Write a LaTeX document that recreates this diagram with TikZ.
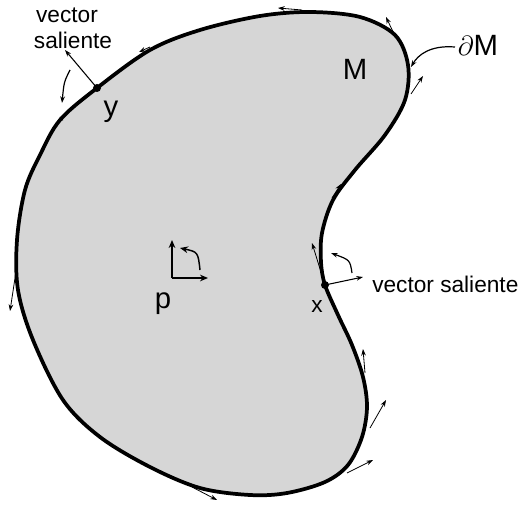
\documentclass[tikz,border=0pt]{standalone}
\usepackage{fontspec}
\setmainfont{Liberation Sans}
\usetikzlibrary{arrows.meta}
\begin{document}
\begin{tikzpicture}[x=0.75pt,y=-0.75pt,
  tanv/.style={-{Stealth[length=5pt,width=3.5pt]}, line width=0.6pt},
  boldv/.style={-{Stealth[length=6pt,width=5pt]}, line width=1.3pt},
  lbl/.style={font=\fontsize{17}{20}\selectfont, inner sep=0pt},
  big/.style={font=\fontsize{22}{24}\selectfont, inner sep=0pt},
  dotp/.style={circle, fill=black, inner sep=0pt, minimum size=6pt}]
\useasboundingbox (0,0) rectangle (521,506);
% region M
\draw[line width=2.8pt, line join=round, fill=black!16]
  plot[smooth cycle, tension=0.55] coordinates {
  (310,12) (360,17) (395,35) (408,65) (405,100) (385,135) (355,170) (333,200)
  (322,233) (321,262) (325,285) (338,315) (352,345) (363,377) (367,407) (362,437)
  (348,465) (325,482) (287,493) (250,495) (200,488) (150,467) (100,437)
  (63,400) (33,340) (18,290) (17,240) (25,190) (40,155) (60,120) (97,88)
  (150,50) (200,30) (260,16)};
% points x and y
\node[dotp] (y) at (97,88) {};
\node[dotp] (x) at (325,285) {};
% tangent vectors along the boundary
\coordinate (t1a) at (302,10);  \coordinate (t1b) at (278,8);
\coordinate (t2a) at (396,38);  \coordinate (t2b) at (386,17);
\coordinate (t3a) at (411,94);  \coordinate (t3b) at (423,76);
\coordinate (t4a) at (332,198); \coordinate (t4b) at (341,184);
\coordinate (t5b) at (312,243);
\coordinate (t6a) at (365,373); \coordinate (t6b) at (363,349);
\coordinate (t7a) at (370,428); \coordinate (t7b) at (386,400);
\coordinate (t8a) at (347,473); \coordinate (t8b) at (373,460);
\coordinate (t9a) at (192,487); \coordinate (t9b) at (217,500);
\coordinate (t10a) at (17,265); \coordinate (t10b) at (10,311);
\coordinate (t11a) at (68,112); \coordinate (t11b) at (57,123);
\coordinate (t12a) at (150,47); \coordinate (t12b) at (139,52);
\foreach \i in {1,2,3,4,6,7,8,9,10,11,12}
  \draw[tanv] (t\i a) -- (t\i b);
\draw[tanv] (x.center) -- (t5b);
% outward vectors
\coordinate (ox) at (363,277);
\coordinate (oy) at (65,50);
\draw[tanv, line width=0.8pt] (x.center) -- (ox);
\draw[tanv, line width=0.8pt] (y.center) -- (oy);
% rotation arrow at x
\coordinate (cxa) at (352,273); \coordinate (cxb) at (331,253);
\draw[tanv, line width=0.9pt] (cxa) .. controls (350,260) .. (cxb);
% frame at p
\coordinate (o) at (172,278);
\coordinate (oup) at (172,240);
\coordinate (oright) at (208,278);
\draw[boldv] (o) -- (oup);
\draw[boldv] (o) -- (oright);
\coordinate (cpa) at (200,270); \coordinate (cpb) at (180,248);
\draw[boldv, line width=1.1pt] (cpa) .. controls (198,252) .. (cpb);
% labels
\node[lbl] (vs1) at (67,15) {vector};
\node[lbl] (vs2) at (73,40) {saliente};
\coordinate (ly1) at (70,70); \coordinate (ly2) at (62,103);
\draw[tanv, line width=0.9pt] (ly1) .. controls (64,82) .. (ly2);
\node[lbl, anchor=base west] (vsx) at (372,292) {vector saliente};
\node[big] (M) at (355,69) {M};
\node[big] (dM) at (478,45) {$\partial$M};
\coordinate (dma) at (455,47); \coordinate (dmb) at (411,67);
\draw[tanv, line width=0.9pt] (dma) .. controls (430,45) and (418,55) .. (dmb);
\node[big, anchor=base] (ylab) at (111,117) {y};
\node[lbl, anchor=base] (xlab) at (317,312) {x};
\node[big, anchor=base] (plab) at (163,308) {p};
\end{tikzpicture}
\end{document}
